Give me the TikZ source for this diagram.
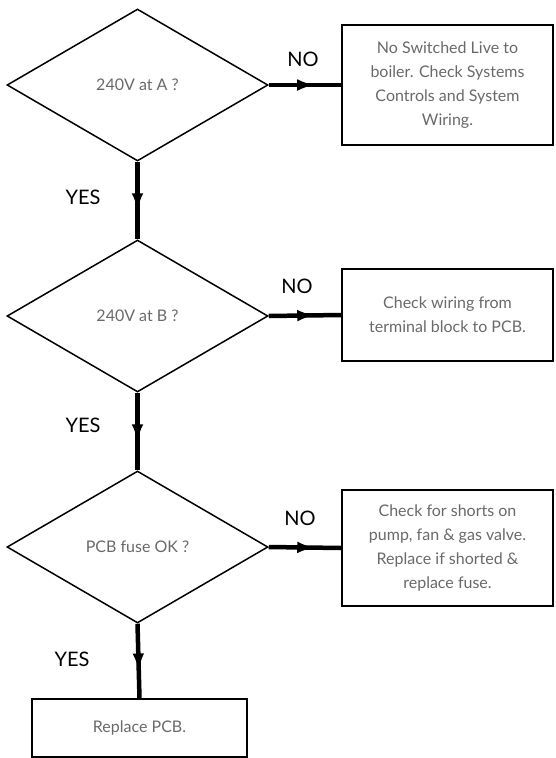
\documentclass[tikz,border=0pt]{standalone}
\usepackage{fontspec}
\setmainfont{Lato}
\usetikzlibrary{shapes.geometric,arrows.meta,decorations.markings}
\definecolor{txtgray}{RGB}{105,105,105}
\begin{document}
\begin{tikzpicture}[x=1pt,y=-1pt,
  query/.style={diamond,draw,line width=1.5pt,minimum width=261pt,
    minimum height=152pt,inner sep=0pt,text=txtgray,
    font=\fontsize{16}{18}\selectfont},
  action/.style={draw,line width=1.6pt,inner sep=0pt,align=center,
    text=txtgray,font=\fontsize{16}{24}\selectfont},
  answer/.style={font=\fontsize{20}{22}\selectfont},
  flow/.style={line width=4.5pt,postaction={decorate},
    decoration={markings,mark=at position #1 with
      {\arrow[line width=0pt]{Latex[length=15pt 0 0,width=11.5pt 0 0]}}}}]
  \useasboundingbox (0,0) rectangle (555,758);

  \node[query] (q1) at (137.5,85) {240V at A ?};
  \node[query] (q2) at (137.5,316) {240V at B ?};
  \node[query] (q3) at (137.5,547) {PCB fuse OK ?};

  \node[action,minimum width=211pt,minimum height=120pt] (b1) at (447.5,85)
    {No Switched Live to\\boiler. Check Systems\\Controls and System\\Wiring.};
  \node[action,minimum width=211pt,minimum height=92pt] (b2) at (447.5,315)
    {Check wiring from\\terminal block to PCB.};
  \node[action,minimum width=211pt,minimum height=116pt] (b3) at (447.5,548)
    {Check for shorts on\\pump, fan \& gas valve.\\Replace if shorted \&\\replace fuse.};
  \node[action,minimum width=215pt,minimum height=58pt] (b4) at (139.5,728)
    {Replace PCB.};

  \node[answer] (no1) at (303,59) {NO};
  \node[answer] (no2) at (297,286) {NO};
  \node[answer] (no3) at (300,518) {NO};
  \node[answer] (yes1) at (83,197) {YES};
  \node[answer] (yes2) at (83,425) {YES};
  \node[answer] (yes3) at (72,659) {YES};

  \draw[flow=0.6] (q1.east) -- (b1.west);
  \draw[flow=0.6] (q2.east) -- (b2.west);
  \draw[flow=0.6] (q3.east) -- (b3.west);
  \draw[flow=0.6] (q1.south) -- (q2.north);
  \draw[flow=0.6] (q2.south) -- (q3.north);
  \draw[flow=0.6] (q3.south) -- (b4.north);
\end{tikzpicture}
\end{document}
